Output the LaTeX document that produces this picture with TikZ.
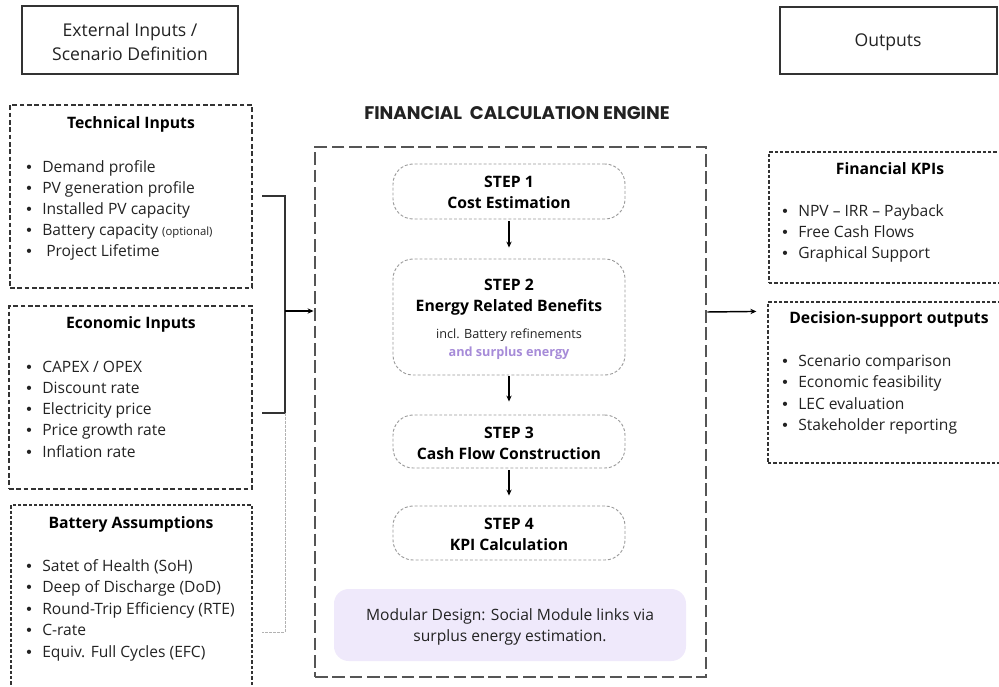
\documentclass[tikz,border=0pt]{standalone}
\usepackage{fontspec}
\setmainfont{Open Sans}
\newfontfamily\poppins{Poppins}
\newfontfamily\bulfont{Liberation Sans}
\usetikzlibrary{arrows.meta,calc,fit}
\definecolor{boxline}{HTML}{333333}
\definecolor{engline}{HTML}{555555}
\definecolor{stepline}{HTML}{9A9A9A}
\definecolor{purpletxt}{HTML}{A68BD8}
\definecolor{lavender}{HTML}{EFE9FB}
\definecolor{txtcol}{HTML}{222222}
\newcommand{\bitem}[1]{\makebox[12pt][l]{{\bulfont•}}#1}
\begin{document}
\begin{tikzpicture}[x=0.75pt,y=-0.75pt,
 hdr/.style={draw=boxline, line width=1.6pt, inner sep=0pt},
 hdrtxt/.style={align=center, font=\fontsize{13.2}{18}\selectfont, text=txtcol, inner sep=0pt},
 inbox/.style={draw=boxline, line width=1.3pt, dash pattern=on 3.5pt off 2pt, inner sep=0pt},
 thinbox/.style={draw=boxline, line width=0.9pt, dash pattern=on 2.5pt off 1.5pt, inner sep=0pt},
 engbox/.style={draw=engline, line width=2.2pt, dash pattern=on 9.5pt off 3.5pt, inner sep=0pt},
 stepbox/.style={draw=stepline, line width=0.7pt, dash pattern=on 2.2pt off 1.5pt, rounded corners=15pt, inner sep=0pt},
 modbox/.style={fill=lavender, rounded corners=11pt, inner sep=0pt},
 boxtitle/.style={font=\bfseries\fontsize{11.8}{14}\selectfont, text=black, inner sep=0pt},
 itemtxt/.style={font=\fontsize{11.7}{14}\selectfont, text=txtcol, inner sep=0pt, anchor=mid west},
 steptxt/.style={font=\bfseries\fontsize{11.8}{15.75}\selectfont, align=center, inner sep=0pt, text=black},
 arr/.style={-{Stealth[length=4.5pt,width=4pt]}, line width=0.8pt, draw=black},
 brk/.style={draw=boxline, line width=1.1pt},
 gbrk/.style={draw=gray!60, line width=0.7pt, dash pattern=on 2pt off 1pt},
]
\useasboundingbox (0,0) rectangle (999,686);
\clip (0,0) rectangle (999,686);

% headers
\node[hdr, fit={(22,6)(238,74)}] (hin) {};
\node[hdrtxt] (hint) at (130,41.5) {External Inputs /\\Scenario Definition};
\node[hdr, fit={(780,7)(997,74)}] (hout) {};
\node[hdrtxt] (houtt) at (888,42) {Outputs};

% technical inputs
\node[inbox, fit={(10,105)(252,288)}] (tech) {};
\node[boxtitle] (techt) at (131,124) {Technical Inputs};
\foreach \t [count=\i] in {Demand profile, PV generation profile, Installed PV capacity, {Battery capacity {\fontsize{8.5}{10}\selectfont(optional)}}, {\hspace{3pt}Project Lifetime}}
  \node[itemtxt] (tech-\i) at (26,{168.5+(\i-1)*21.1}) {\bitem{\t}};

% economic inputs
\node[inbox, fit={(9,306)(252,489)}] (econ) {};
\node[boxtitle] (econt) at (131,324.5) {Economic Inputs};
\foreach \t [count=\i] in {CAPEX / OPEX, Discount rate, Electricity price, Price growth rate, Inflation rate}
  \node[itemtxt] (econ-\i) at (26,{368.5+(\i-1)*21.25}) {\bitem{\t}};

% battery assumptions
\node[thinbox, fit={(11,505)(252,700)}] (batt) {};
\node[boxtitle] (battt) at (131,524.5) {Battery Assumptions};
\foreach \t [count=\i] in {Satet of Health (SoH), Deep of Discharge (DoD), Round-Trip Efficiency (RTE), C-rate, Equiv. Full Cycles (EFC)}
  \node[itemtxt] (batt-\i) at (26,{567.5+(\i-1)*21.5}) {\bitem{\t}};

% engine
\node[font=\poppins\bfseries\fontsize{13.7}{16}\selectfont, text=txtcol, inner sep=0pt] (engt) at (517,113) {FINANCIAL\hspace{0.22em} CALCULATION ENGINE};
\node[engbox, fit={(315,147)(706,677)}] (engine) {};

\node[stepbox, fit={(393,164)(625,219)}] (s1) {};
\node[steptxt] (s1t) at ($(s1.center)+(0,1)$) {STEP 1\\Cost Estimation};
\node[stepbox, fit={(393,259)(625,375)}] (s2) {};
\node[steptxt] (s2t) at (509,297.5) {STEP 2\\Energy Related Benefits};
\node[font=\fontsize{9.5}{12}\selectfont, text=txtcol, inner sep=0pt] (s2b) at (509,335) {incl. Battery refinements};
\node[font=\bfseries\fontsize{9.5}{12}\selectfont, text=purpletxt, inner sep=0pt] (s2c) at (509,353) {and surplus energy};
\node[stepbox, fit={(393,415)(625,468)}] (s3) {};
\node[steptxt] (s3t) at ($(s3.center)+(0,1.5)$) {STEP 3\\Cash Flow Construction};
\node[stepbox, fit={(393,506)(625,560)}] (s4) {};
\node[steptxt] (s4t) at ($(s4.center)+(0,1)$) {STEP 4\\KPI Calculation};

\node[modbox, fit={(334,589)(686,661)}] (mod) {};
\node[font=\fontsize{11.7}{15.75}\selectfont, text=txtcol, align=center, inner sep=0pt] (modt) at ($(mod.center)+(0,1.5)$) {Modular Design: Social Module links via\\surplus energy estimation.};

\draw[arr] ($(s1.south)+(0,2)$) -- ($(s2.north)+(0,-11)$);
\draw[arr] ($(s2.south)+(0,1)$) -- ($(s3.north)+(0,-13)$);
\draw[arr] ($(s3.south)+(0,2)$) -- ($(s4.north)+(0,-10)$);

% outputs
\node[thinbox, fit={(769,152)(1012,283)}] (kpi) {};
\node[boxtitle] (kpit) at (890,169) {Financial KPIs};
\foreach \t [count=\i] in {NPV – IRR – Payback, Free Cash Flows, Graphical Support}
  \node[itemtxt] (kpi-\i) at (782,{213+(\i-1)*21}) {\bitem{\t}};

\node[thinbox, fit={(768,302)(1012,463)}] (dec) {};
\node[boxtitle] (dect) at (889,319.5) {Decision-support outputs};
\foreach \t [count=\i] in {Scenario comparison, Economic feasibility, LEC evaluation, Stakeholder reporting}
  \node[itemtxt] (dec-\i) at (782,{362.5+(\i-1)*21.5}) {\bitem{\t}};

% bracket connectors
\coordinate (bt) at (262,196);
\coordinate (bb) at (262,413);
\coordinate (bj) at (285,311);
\coordinate (bg) at (262,632);
\draw[brk] (bt) -| (bj) |- (bb);
\draw[gbrk] (bb -| bj) |- (bg);
\draw[arr, line width=1.1pt] (bj) -- (engine.west |- bj);
\draw[arr, line width=1.1pt] (engine.east |- 0,312) -- ($(dec.north west)+(-11,10)$);
\end{tikzpicture}
\end{document}
